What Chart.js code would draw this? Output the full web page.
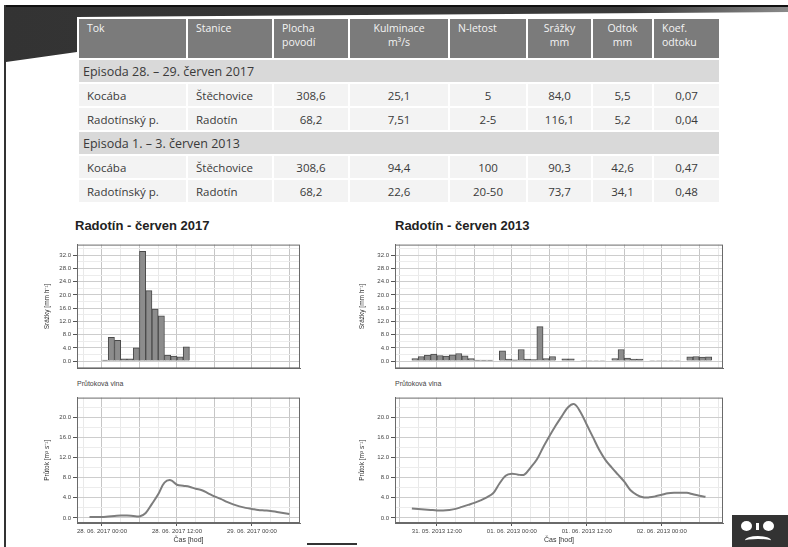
<!DOCTYPE html>
<html lang="cs">
<head>
<meta charset="UTF-8">
<title>Radotín - červen 2017 / 2013</title>
<script src="https://cdn.jsdelivr.net/npm/chart.js"></script>
<style>
  body { margin: 0; width: 788px; height: 547px; background: #fff; position: relative; overflow: hidden;
         font-family: "Liberation Sans", Arial, sans-serif; }
  .abs { position: absolute; }
  #band { left: 6px; top: 7px; width: 782px; height: 56px; background: linear-gradient(90deg, #333 0%, #3a3a3a 80%, #8a8a8a 100%);
          clip-path: polygon(0 0, 782px 0, 782px 5px, 71px 10px, 71px 45px, 0 55px); }
  #topline { left: 5px; top: 5px; width: 783px; height: 2px; background: #111; }
  #leftline { left: 4px; top: 5px; width: 2px; height: 542px; background: #333; }
  table { position: absolute; left: 77px; top: 17px; width: 642px; border-collapse: collapse; table-layout: fixed;
          font-family: "Open Sans", "Liberation Sans", sans-serif; font-size: 11.5px; color: #3a3a3a; }
  td, th { border: 2px solid #fff; padding: 0 8px; height: 22px; white-space: nowrap; }
  th { background: #7b7b7b; color: #f4f4f4; font-weight: normal; height: 37px; vertical-align: top; padding-top: 2px;
       line-height: 14px; font-size: 10.5px; }
  td { background: #f3f3f3; }
  td.grp { background: #d9d9d9; font-size: 12.5px; }
  .ttl { font-weight: bold; font-size: 13px; color: #222; }
  .sub { font-size: 7px; color: #444; }
</style>
</head>
<body>
<div id="band" class="abs"></div>
<div id="topline" class="abs"></div>
<div id="leftline" class="abs"></div>

<table id="tab"></table>

<div class="abs ttl" style="left:75px; top:218px;">Radotín - červen 2017</div>
<div class="abs ttl" style="left:395px; top:218px;">Radotín - červen 2013</div>
<div class="abs sub" style="left:77px; top:380px;">Průtoková vlna</div>
<div class="abs sub" style="left:395px; top:380px;">Průtoková vlna</div>

<canvas id="rain17" class="abs" style="left:40px; top:239px;" width="261" height="135"></canvas>
<canvas id="flow17" class="abs" style="left:40px; top:392px;" width="261" height="153"></canvas>
<canvas id="rain13" class="abs" style="left:355px; top:239px;" width="369" height="135"></canvas>
<canvas id="flow13" class="abs" style="left:355px; top:392px;" width="369" height="153"></canvas>

<!-- logo vpravo dole -->
<div class="abs" style="left:732px; top:515px; width:56px; height:32px; background:#333;"></div>
<div class="abs" style="left:741px; top:521px; width:11px; height:10px; border-radius:50%; background:#fff;"></div>
<div class="abs" style="left:756px; top:523px; width:3px; height:7px; background:#fff;"></div>
<div class="abs" style="left:763px; top:521px; width:11px; height:10px; border-radius:50%; background:#fff;"></div>
<div class="abs" style="left:745px; top:536px; width:26px; height:6px; border-top:3px solid #fff; border-radius:50% 50% 0 0;"></div>
<div class="abs" style="left:307px; top:543px; width:50px; height:2px; background:#333;"></div>

<script>
// tabulka
const tableHead = ["Tok", "Stanice", "Plocha<br>povodí", "Kulminace<br>m³/s", "N-letost", "Srážky<br>mm", "Odtok<br>mm", "Koef.<br>odtoku"];
const headAlign = ["left", "left", "left", "center", "left", "center", "center", "left"];
const colWidths = [109, 86, 76, 100, 78, 65, 61, 67];
const episode2017 = "Episoda 28. – 29. červen 2017";
const episode2013 = "Episoda 1. – 3. červen 2013";
const rows2017 = [
    ["Kocába", "Štěchovice", "308,6", "25,1", "5", "84,0", "5,5", "0,07"],
    ["Radotínský p.", "Radotín", "68,2", "7,51", "2-5", "116,1", "5,2", "0,04"]
];
const rows2013 = [
    ["Kocába", "Štěchovice", "308,6", "94,4", "100", "90,3", "42,6", "0,47"],
    ["Radotínský p.", "Radotín", "68,2", "22,6", "20-50", "73,7", "34,1", "0,48"]
];

// srážky - hodinové úhrny [mm/h], hodiny od 28. 06. 2017 00:00
const rainHours2017 = [0.5, 1.5, 2.5, 3.5, 4.5, 5.5, 6.5, 7.5, 8.5, 9.5, 10.5, 11.5, 12.5, 13.5];
const rain2017 = [0.3, 7.2, 6.3, 0.7, 0.7, 4.0, 33.2, 21.3, 15.7, 13.7, 1.8, 1.5, 1.3, 4.3];

// průtok [m3/s], hodiny od 28. 06. 2017 00:00
const flowHours2017 = [-2, -1, 0, 1, 2, 3, 4, 5, 6, 7, 8, 9, 10, 11, 12, 13, 14, 15, 16, 17, 18, 19, 20, 21, 22, 23, 24, 25, 26, 27, 28, 29, 30];
const flow2017 = [0.2, 0.2, 0.2, 0.3, 0.4, 0.5, 0.5, 0.4, 0.3, 1.0, 2.8, 4.7, 7.0, 7.5, 6.6, 6.4, 6.2, 5.8, 5.5, 4.9,
                  4.3, 3.8, 3.2, 2.7, 2.3, 2.0, 1.8, 1.6, 1.5, 1.4, 1.2, 1.0, 0.8];

// srážky 2013, hodiny od 31. 05. 2013 12:00
const rainHours2013 = [-3.5, -2.5, -1.5, -0.5, 0.5, 1.5, 2.5, 3.5, 4.5, 5.5, 6.5, 7.5, 8.5, 10.5, 11.5, 12.5, 13.5, 14.5,
                       15.5, 16.5, 17.5, 18.5, 20.5, 21.5, 23.5, 24.5, 25.5, 26.5, 28.5, 29.5, 30.5, 31.5, 32.5,
                       34.5, 35.5, 36.5, 37.5, 38.5, 40.5, 41.5, 42.5, 43.5];
const rain2013 = [0.8, 1.4, 1.8, 2.1, 1.7, 1.5, 1.9, 2.3, 1.6, 0.8, 0.3, 0.3, 0.3, 3.1, 0.6, 0.4, 3.5, 0.6,
                  0.5, 10.4, 0.8, 1.4, 0.7, 0.7, 0.2, 0.2, 0.2, 0.2, 0.8, 3.5, 0.9, 0.6, 0.6,
                  0.2, 0.2, 0.2, 0.2, 0.2, 1.3, 1.4, 1.2, 1.3];

// průtok 2013, hodiny od 31. 05. 2013 12:00
const flowHours2013 = [-4, -3, -2, -1, 0, 1, 2, 3, 4, 5, 6, 7, 8, 9, 10, 11, 12, 13, 14, 15, 16, 17, 18, 19, 20, 21, 22, 23,
                       24, 25, 26, 27, 28, 29, 30, 31, 32, 33, 34, 35, 36, 37, 38, 39, 40, 41, 42, 43];
const flow2013 = [1.9, 1.8, 1.7, 1.6, 1.5, 1.5, 1.6, 1.8, 2.2, 2.6, 3.0, 3.5, 4.1, 4.9, 6.8, 8.4, 8.8, 8.6, 8.6, 10.0,
                  11.6, 14.0, 16.2, 18.3, 20.2, 22.0, 22.6, 21.0, 18.5, 16.0, 13.5, 11.5, 10.0, 8.6, 7.2, 5.5, 4.6,
                  4.1, 4.1, 4.3, 4.6, 4.9, 5.0, 5.0, 5.0, 4.7, 4.4, 4.2];

const xTicks2017 = [0, 12, 24];
const xLabels2017 = ["28. 06. 2017 00:00", "28. 06. 2017 12:00", "29. 06. 2017 00:00"];
const xTicks2013 = [0, 12, 24, 36];
const xLabels2013 = ["31. 05. 2013 12:00", "01. 06. 2013 00:00", "01. 06. 2013 12:00", "02. 06. 2013 00:00"];

// sestavení tabulky
const tab = document.getElementById("tab");
let html = "<colgroup>" + colWidths.map(w => '<col style="width:' + w + 'px">').join("") + "</colgroup>";
html += "<tr>" + tableHead.map((h, i) => '<th style="text-align:' + headAlign[i] + '">' + h + "</th>").join("") + "</tr>";
function addRows(title, rows) {
    html += '<tr><td class="grp" colspan="8" style="padding-left:4px">' + title + "</td></tr>";
    rows.forEach(r => {
        html += "<tr>" + r.map((c, i) => '<td style="text-align:' + (i < 2 ? "left" : "center") + '">' + c + "</td>").join("") + "</tr>";
    });
}
addRows(episode2017, rows2017);
addRows(episode2013, rows2013);
tab.innerHTML = html;

// rámeček kolem grafu
const frame = {
    id: "frame",
    afterDraw(chart) {
        const a = chart.chartArea, ctx = chart.ctx;
        ctx.save();
        ctx.strokeStyle = "#6a6a6a";
        ctx.lineWidth = 1;
        ctx.strokeRect(a.left + 0.5, a.top + 0.5, a.right - a.left - 1, a.bottom - a.top - 1);
        ctx.restore();
    }
};

function range(from, to, step) { const r = []; for (let v = from; v <= to + 1e-9; v += step) r.push(v); return r; }

function makeChart(id, o) {
    const isBar = o.type === "bar";
    const points = o.xs.map((x, i) => ({ x: x, y: o.ys[i] }));
    new Chart(document.getElementById(id), {
        type: o.type,
        data: {
            datasets: [isBar ? {
                data: points, backgroundColor: "#8c8c8c", borderColor: "#4a4a4a", borderWidth: 1,
                barPercentage: 1, categoryPercentage: 1
            } : {
                data: points, borderColor: "#7d7d7d", borderWidth: 2, pointRadius: 0, tension: 0.35, fill: false
            }]
        },
        options: {
            responsive: false, animation: false,
            layout: { padding: { top: 1, right: 1, left: 0, bottom: 0 } },
            plugins: { legend: { display: false }, tooltip: { enabled: false } },
            scales: {
                x: {
                    type: "linear", min: o.xMin, max: o.xMax, offset: false,
                    afterBuildTicks: s => { s.ticks = range(o.xFirst, o.xMax, 3).map(v => ({ value: v })); },
                    afterFit: s => { s.height = o.xH; },
                    grid: {
                        offset: false, tickLength: 3,
                        color: c => (c.tick && c.tick.value % 6 === 0) ? "#c6c6c6" : "#e9e9e9",
                        tickColor: c => (c.tick && o.labTicks.includes(c.tick.value)) ? "#555" : "rgba(0,0,0,0)",
                        drawTicks: o.showX
                    },
                    border: { color: "#6a6a6a" },
                    ticks: {
                        display: o.showX, autoSkip: false, maxRotation: 0, padding: 2,
                        font: { size: 6, family: "Liberation Sans" }, color: "#444",
                        callback: v => { const k = o.labTicks.indexOf(v); return k >= 0 ? o.labText[k] : ""; }
                    },
                    title: { display: o.showX, text: "Čas [hod]", font: { size: 7, family: "Liberation Sans" }, color: "#333", padding: { top: 1, bottom: 1 } }
                },
                y: {
                    min: o.yMin, max: o.yMax,
                    afterBuildTicks: s => { s.ticks = range(0, o.yMax, 2).map(v => ({ value: v })); },
                    afterFit: s => { s.width = o.yW; },
                    grid: {
                        tickLength: 4,
                        color: c => (c.tick && c.tick.value % 4 === 0) ? "#cdcdcd" : "#ececec",
                        tickColor: c => (c.tick && c.tick.value % 4 === 0) ? "#555" : "rgba(0,0,0,0)"
                    },
                    border: { color: "#6a6a6a" },
                    ticks: {
                        padding: 2, autoSkip: false, font: { size: 6, family: "Liberation Sans" }, color: "#444",
                        callback: v => v % 4 === 0 ? v.toFixed(1) : ""
                    },
                    title: { display: true, text: o.yTitle, font: { size: 6.5, family: "Liberation Sans" }, color: "#333", padding: { top: 3, bottom: 2 } }
                }
            }
        },
        plugins: [frame]
    });
}

makeChart("rain17", { type: "bar", xs: rainHours2017, ys: rain2017, xMin: -4, xMax: 31.7, xFirst: -3, xH: 2, showX: false,
    labTicks: [], labText: [], yMin: -2.2, yMax: 35.2, yW: 37, yTitle: "Srážky [mm h⁻¹]" });
makeChart("flow17", { type: "line", xs: flowHours2017, ys: flow2017, xMin: -4, xMax: 31.7, xFirst: -3, xH: 22, showX: true,
    labTicks: xTicks2017, labText: xLabels2017, yMin: -1.0, yMax: 23.9, yW: 37, yTitle: "Průtok [m³ s⁻¹]" });
makeChart("rain13", { type: "bar", xs: rainHours2013, ys: rain2013, xMin: -6.7, xMax: 45.8, xFirst: -6, xH: 2, showX: false,
    labTicks: [], labText: [], yMin: -2.2, yMax: 35.2, yW: 40, yTitle: "Srážky [mm h⁻¹]" });
makeChart("flow13", { type: "line", xs: flowHours2013, ys: flow2013, xMin: -6.7, xMax: 45.8, xFirst: -6, xH: 22, showX: true,
    labTicks: xTicks2013, labText: xLabels2013, yMin: -1.0, yMax: 23.9, yW: 40, yTitle: "Průtok [m³ s⁻¹]" });
</script>
</body>
</html>
